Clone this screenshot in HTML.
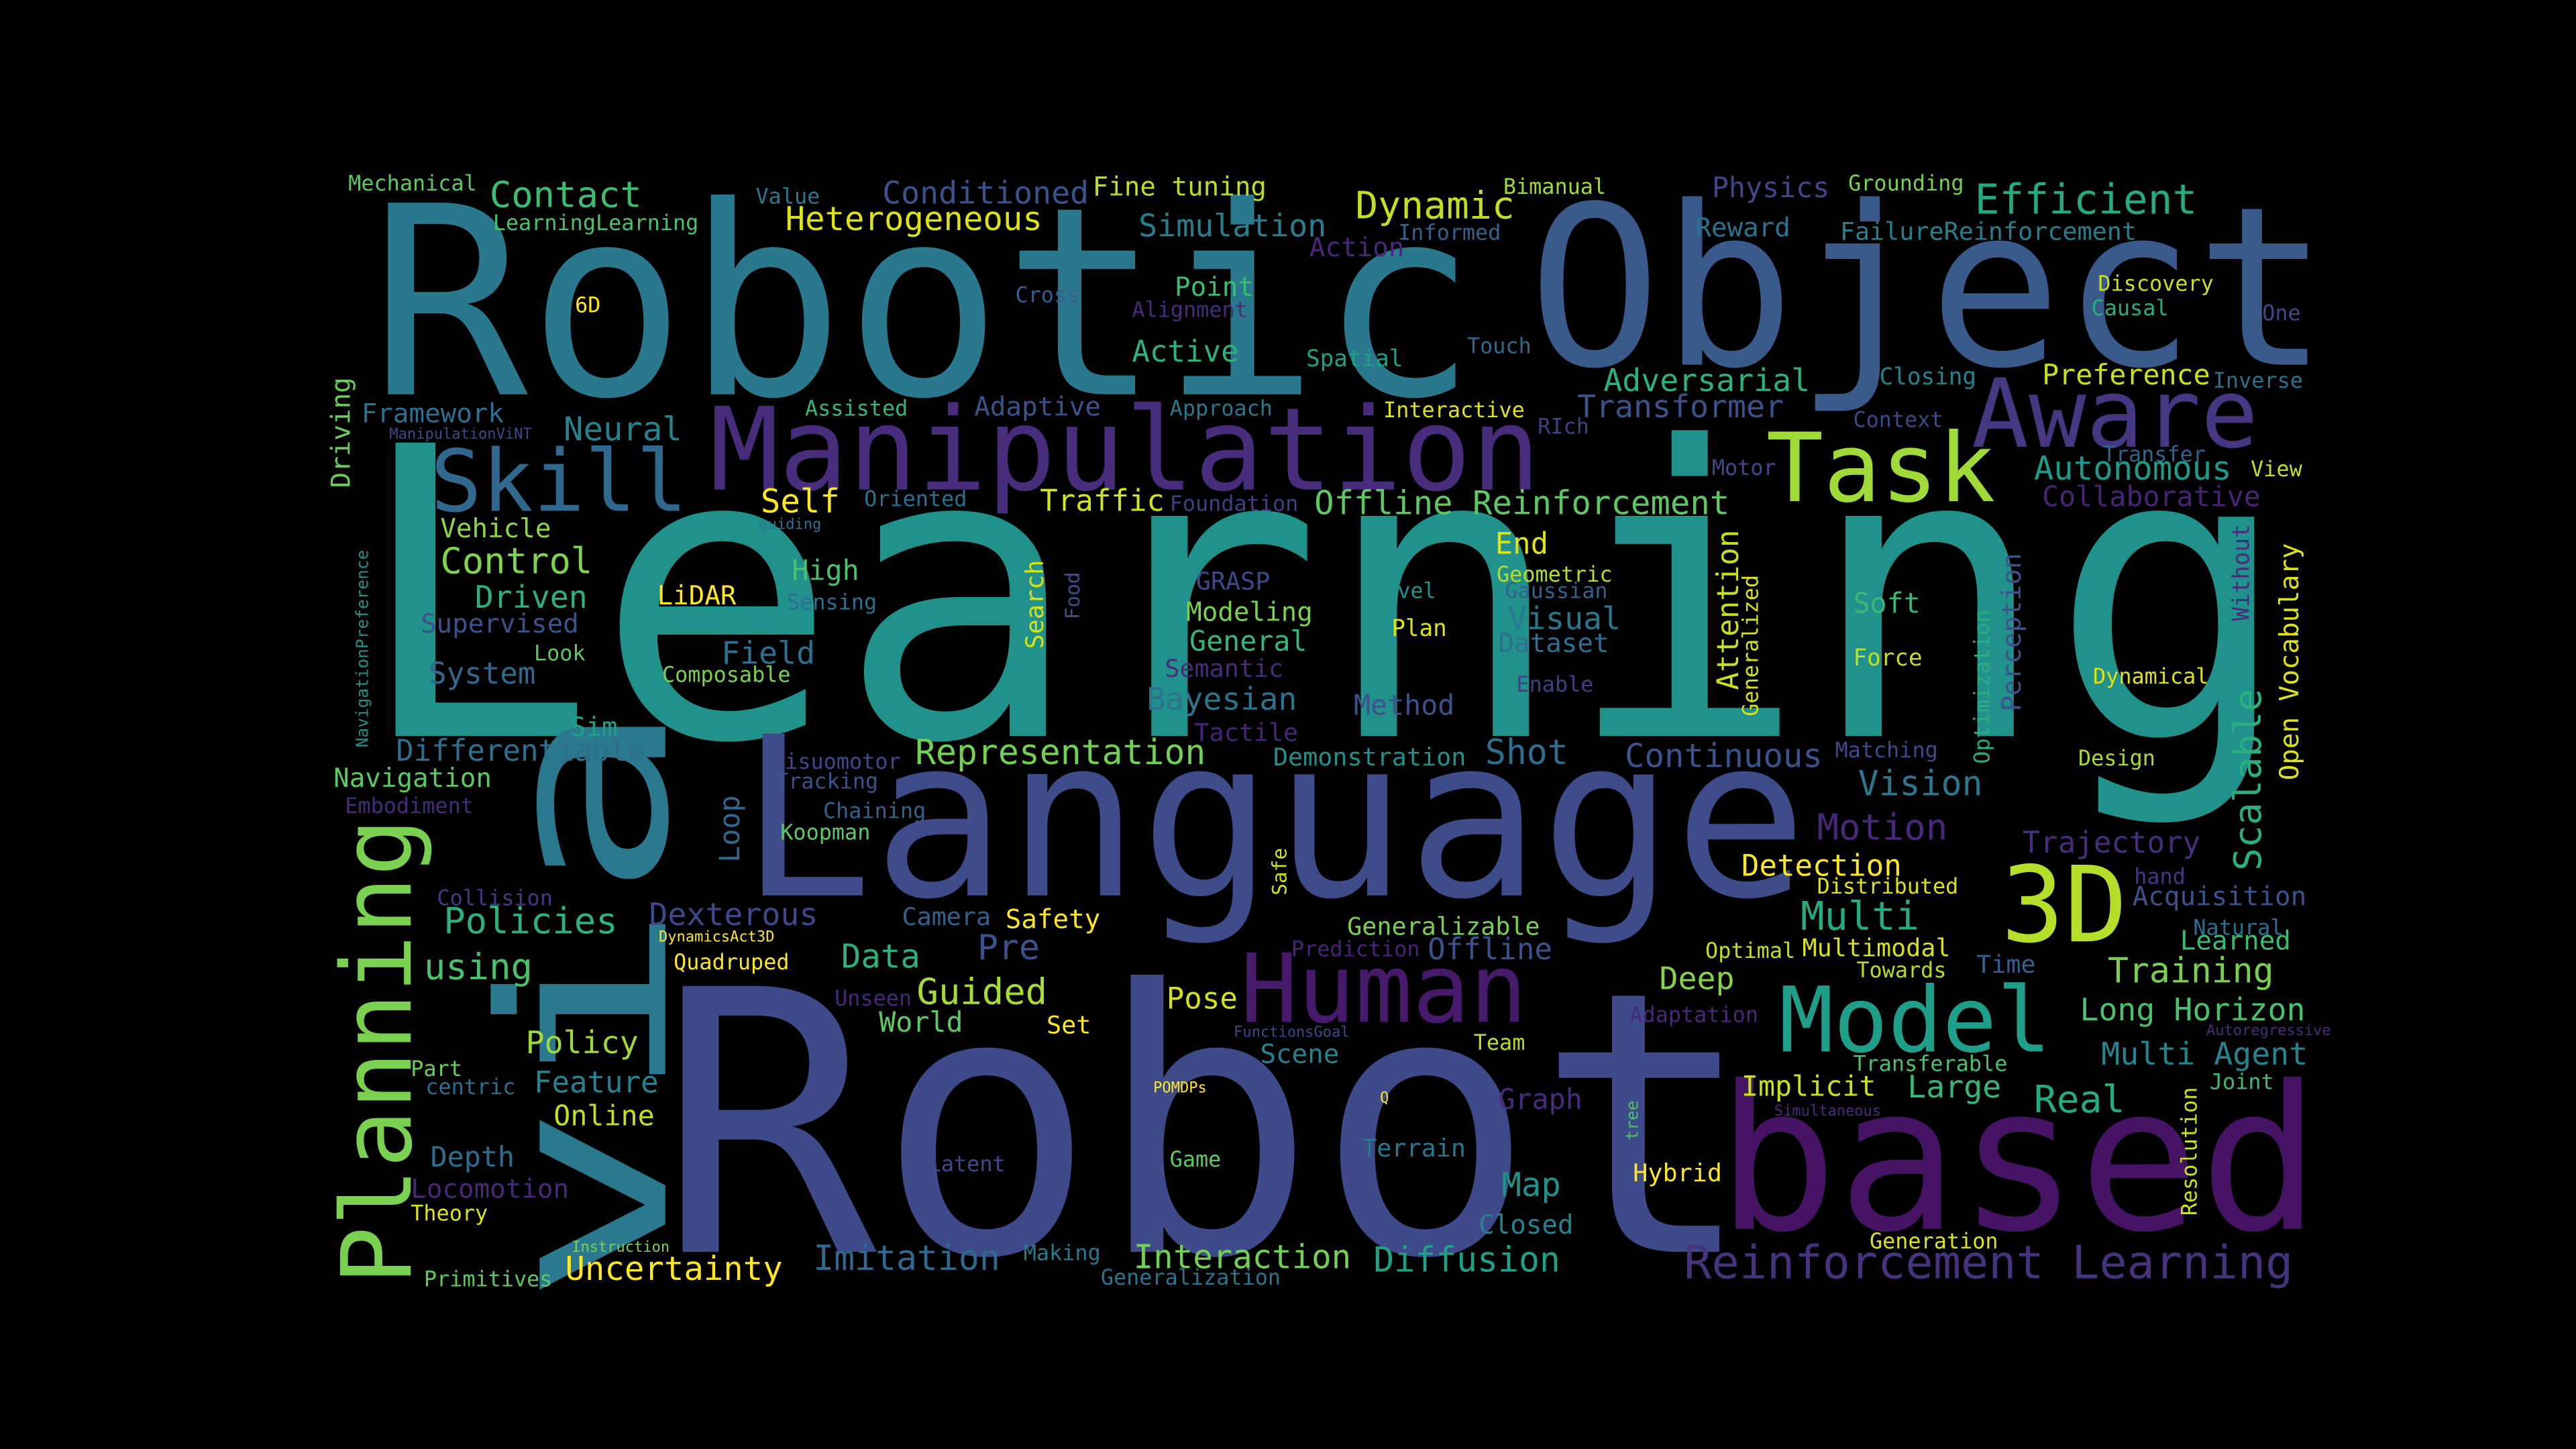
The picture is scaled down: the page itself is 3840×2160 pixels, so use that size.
<!DOCTYPE html>
<html><head><meta charset="utf-8"><title>Robot Learning Word Cloud</title>
<style>html,body{margin:0;padding:0;background:#000;}svg{display:block;}</style></head>
<body>
<svg id="cloud" xmlns="http://www.w3.org/2000/svg" width="3840" height="2160" viewBox="0 0 1568 882">
<rect x="0" y="0" width="1568" height="882" fill="#000"/>
<g id="words" font-family="'DejaVu Sans Mono','Liberation Mono',monospace"></g>
</svg>
<script>
const words=["Robotic","Object","Learning","Robot","Language","via","Planning","based","Manipulation","Skill","Task","Aware","3D","Model","Human","Reinforcement Learning",
"Mechanical","Contact","LearningLearning","Value","Conditioned","Heterogeneous","Fine tuning","Simulation","Dynamic","Bimanual","Informed","Action","Physics","Grounding","Efficient","Reward","FailureReinforcement","6D","Cross","Point","Alignment","Active","Discovery","Causal","One","Touch","Spatial","Adversarial","Closing","Preference","Inverse","Transformer","Context","Assisted","Adaptive","Approach","Interactive","Framework","ManipulationViNT","RIch","Neural","Transfer","Motor","Autonomous","View","Collaborative","Self","Oriented","Traffic","Foundation","Offline Reinforcement","Vehicle","guiding","Control","End","High","Driven","LiDAR","Sensing","GRASP","Level","Geometric","Gaussian","Modeling","Soft","Supervised","Plan","Visual","General","Dataset","Look","Force","Field","Semantic","System","Composable","Dynamical","Enable","Bayesian","Method","Sim","Tactile","Differentiable","Matching","Representation","Demonstration","Shot","Continuous","Design","Visuomotor","Navigation","Tracking","Vision","Embodiment","Chaining","Motion","Koopman","Trajectory","Detection","Distributed","hand","Acquisition","Collision","Dexterous","Camera","Safety","Policies","Multi","Generalizable","DynamicsAct3D","Natural","Learned","Pre","Prediction","Offline","Optimal","Multimodal","using","Quadruped","Data","Time","Towards","Training","Deep","Guided","Pose","Unseen","Long Horizon","Adaptation","World","Set","FunctionsGoal","Autoregressive","Policy","Team","Scene","Multi Agent","Transferable","Part","Feature","POMDPs","Q","Joint","Implicit","Large","centric","Real","Graph","Simultaneous","Online","Terrain","Depth","Latent","Game","Hybrid","Map","Locomotion","Theory","Closed","Generation","Instruction","Making","Imitation","Interaction","Diffusion","Uncertainty","Primitives","Generalization",
"Driving","NavigationPreference","Attention","Generalized","Without","Open Vocabulary","Perception","Optimization","Search","Food","Scalable","Loop","Safe","tree","Resolution"];
const xs=[225,930,215,400,450,405,250,1045,432,262,1075,1200,1218,1083,755,1025,
212,298,300,460,537,478,665,693,825,915,851,797,1042,1125,1202,1032,1120,350,618,715,689,689,1277,1273,1377,893,795,976,1144,1243,1347,960,1128,490,593,712,842,220,237,936,343,1280,1042,1238,1370,1243,463,526,633,712,800,268,462,268,910,482,289,400,479,728,835,911,916,722,1128,256,847,918,724,912,325,1128,439,709,261,403,1274,923,698,824,347,727,241,1117,557,775,904,989,1265,470,203,472,1131,210,501,1106,475,1231,1060,1106,1299,1298,266,395,549,612,270,1096,820,401,1335,1327,595,786,869,1038,1097,258,410,512,1203,1130,1283,1010,558,710,508,1266,992,535,637,751,1343,320,897,767,1279,1128,250,325,702,840,1345,1060,1161,259,1238,912,1080,337,829,262,565,712,994,914,250,250,900,1138,348,623,495,690,836,344,258,670,
213,224,1058,1070,1369,1399,1230,1211,635,657,1376,450,783,997,1337];
const ys=[240,222,448,762,545,795,782,748,298,311,305,272,573,640,622,778,
116,126,140,124,124,140,119,144,133,118,146,156,120,116,130,144,146,190,184,180,193,220,177,192,195,215,223,238,234,234,236,254,260,253,253,253,254,257,267,264,268,281,289,292,290,308,312,308,311,311,313,327,322,349,337,353,370,368,371,359,364,354,364,378,373,385,387,383,396,397,402,405,404,412,416,415,416,421,432,435,448,451,463,461,465,466,465,467,466,468,479,480,484,495,498,511,511,519,533,544,538,551,551,563,563,565,568,566,569,573,569,578,584,582,584,583,582,596,590,589,592,595,598,602,611,614,612,621,622,628,629,631,630,641,639,647,648,652,655,665,665,671,663,667,668,666,677,675,679,685,704,710,713,710,719,728,729,743,751,760,762,767,773,772,774,779,783,782,
297,455,420,436,378,475,433,465,395,377,530,525,545,694,740];
const sizes=[160,135,245,222,135,140,59,122,70,52,58,58,64,55,58,28,
13,22,13,13,19,20,16,19,23,13,13,16,17,13,25,16,15,13,13,16,13,18,13,13,13,13,14,19,14,17,13,19,13,13,16,13,13,16,9,13,20,13,13,20,13,17,20,13,18,13,20,16,9,22,18,17,19,16,13,15,13,13,13,16,17,16,14,19,17,16,13,14,19,15,18,13,13,13,19,17,16,15,18,13,21,15,21,20,13,13,16,13,21,13,13,22,13,18,18,13,13,16,13,19,15,16,22,24,15,9,13,16,21,13,18,13,15,22,13,20,15,13,21,19,22,18,13,19,13,17,15,9,9,19,13,16,19,13,13,18,9,9,13,17,19,13,23,17,9,17,15,17,13,13,15,20,16,13,16,13,9,13,21,20,21,20,13,13,
16,10,18,13,14,16,16,13,15,12,23,17,12,10,13];
const colors=["#2a788e","#3b5a8c","#21918c","#3e4a89","#3e4c8a","#2a798e","#7ad151","#471365","#472d7b","#31688e","#a0da39","#453781","#b5de2b","#1f9e89","#481a6c","#46337e",
"#5ec962","#3fbc73","#4ac16d","#2a788e","#3b528b","#dde318","#b8de29","#287d8e","#c2df23","#a0da39","#33638d","#482878","#3f4788","#7ad151","#25ab82","#2c728e","#277f8e","#fde725","#355f8d","#3dbc74","#472c7a","#2db27d","#c8e020","#29af7f","#3e4a89","#31688e","#1fa188","#2db27d","#25838e","#c8e020","#2e6f8e","#3b528b","#3e4989","#35b779","#3b528b","#2a788e","#dde318","#2e6e8e","#3e4a89","#424186","#26828e","#33638d","#3e4a89","#1f9a8a","#c2df23","#482475","#fde725","#2e6e8e","#d2e21b","#433e85","#5ec962","#8fd744","#2b758e","#7fd34e","#dde318","#4ac16d","#2db27d","#fde725","#2e6e8e","#3e4989","#21918c","#b5de2b","#33638d","#7ad151","#38b977","#3b528b","#dde318","#2a788e","#35b779","#2e6e8e","#5ec962","#c2df23","#2e6f8e","#472c7a","#31688e","#7ad151","#dde318","#433e85","#2c738e","#3b528b","#1fa187","#482677","#2e6f8e","#3e4a89","#73d056","#21918c","#2e6f8e","#3b528b","#a8db34","#3e4a89","#5ec962","#3b528b","#2a778e","#472c7a","#33638d","#482878","#5ec962","#472d7b","#fde725","#dde318","#443983","#3b528b","#443a83","#3e4989","#33638d","#fde725","#2db27d","#25ab82","#7ad151","#fde725","#2e6e8e","#3dbc74","#3b528b","#482475","#3b528b","#c2df23","#d8e219","#4ac16d","#fde725","#2db27d","#355f8d","#b5de2b","#7ad151","#84d44b","#a8db34","#d2e21b","#482878","#4ac16d","#482878","#5ec962","#fde725","#3e4a89","#472c7a","#9fda3a","#b8de29","#26828e","#26828e","#4ac16d","#6ccd5a","#26828e","#fde725","#fde725","#3fbc73","#c8e020","#35b779","#2e6e8e","#25ab82","#472d7b","#472c7a","#c2df23","#2a788e","#2e6e8e","#3e4a89","#5ec962","#fde725","#21918c","#482878","#dde318","#26828e","#dde318","#7ad151","#2a788e","#31688e","#73d056","#1fa188","#fde725","#5ec962","#2c738e",
"#6ccd5a","#21918c","#c8e020","#d8e219","#472a7a","#dde318","#3b528b","#29af7f","#d8e219","#3b528b","#2ab07f","#31688e","#cde11d","#4ac16d","#cde11d"];
const rotated=words.map((w,i)=>i===5||i===6||i>=words.length-15);
const stretchWord="via";
const stretchLength=370;

const g=document.getElementById('words');
const NS="http://www.w3.org/2000/svg";
for(let i=0;i<words.length;i++){
  const t=document.createElementNS(NS,'text');
  
  
  t.setAttribute('x',xs[i]);
  t.setAttribute('y',ys[i]);
  t.setAttribute('font-size',sizes[i]);
  t.setAttribute('fill',colors[i]);
  if(words[i]===stretchWord){t.setAttribute('textLength',stretchLength);t.setAttribute('lengthAdjust','spacingAndGlyphs');}
  if(rotated[i]){t.setAttribute('transform','rotate(-90 '+xs[i]+' '+ys[i]+')');}
  t.textContent=words[i];
  g.appendChild(t);
}
</script>
</body></html>
